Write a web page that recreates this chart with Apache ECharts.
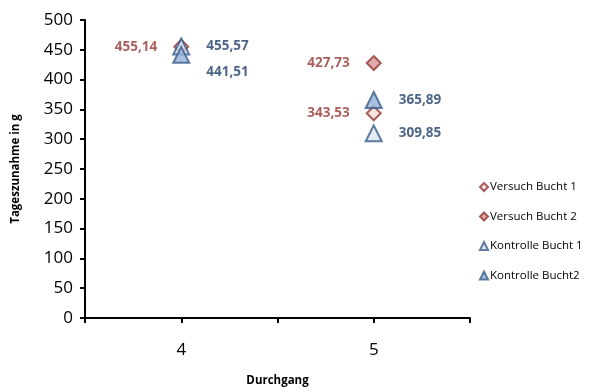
<!DOCTYPE html>
<html>
<head>
<meta charset="utf-8">
<script src="https://cdn.jsdelivr.net/npm/echarts@6/dist/echarts.min.js"></script>
<style>
  html, body { margin: 0; padding: 0; background: #fff; }
  #main { width: 603px; height: 392px; }
</style>
</head>
<body>
<div id="main"></div>
<script>
var durchgang = [4, 5];
var versuch1 = [[4, 455.14], [5, 343.53]];
var versuch2 = [[5, 427.73]];
var kontrolle1 = [[4, 455.57], [5, 309.85]];
var kontrolle2 = [[4, 441.51], [5, 365.89]];
var yTicks = [0, 50, 100, 150, 200, 250, 300, 350, 400, 450, 500];

var myChart = echarts.init(document.getElementById('main'));

function fmt(p) {
  return p.value[1].toFixed(2).replace('.', ',');
}

var redLabel = {
  show: true, position: 'left', distance: 16, formatter: fmt,
  color: '#953735', fontFamily: 'Open Sans', fontWeight: 'bold', fontSize: 13.5
};
var blueLabel = {
  show: true, position: 'right', distance: 16, formatter: fmt,
  color: '#1F3E68', fontFamily: 'Open Sans', fontWeight: 'bold', fontSize: 13.5
};

var option = {
  backgroundColor: '#fff',
  animation: false,
  grid: { left: 85, right: 133, top: 20, bottom: 72 },
  legend: {
    orient: 'vertical',
    left: 474,
    top: 176,
    itemWidth: 8,
    itemHeight: 8,
    itemGap: 17.5,
    textStyle: { fontFamily: 'Open Sans', fontSize: 11.5, color: '#000', padding: [0, 0, 0, -3] },
    data: ['Versuch Bucht 1', 'Versuch Bucht 2', 'Kontrolle Bucht 1', 'Kontrolle Bucht2']
  },
  xAxis: {
    type: 'value',
    min: 3.5, max: 5.5, interval: 0.5,
    name: 'Durchgang',
    nameLocation: 'middle',
    nameGap: 57,
    nameTextStyle: { fontFamily: 'Open Sans', fontWeight: 'bold', fontSize: 11.5, color: '#000' },
    axisLine: { lineStyle: { color: '#000', width: 2 } },
    axisTick: { length: 5, lineStyle: { color: '#000', width: 2 } },
    axisLabel: {
      margin: 24,
      fontFamily: 'Open Sans', fontSize: 17, color: '#000',
      formatter: function (v) { return durchgang.indexOf(v) >= 0 ? String(v) : ''; }
    },
    splitLine: { show: false }
  },
  yAxis: {
    type: 'value',
    min: yTicks[0], max: yTicks[yTicks.length - 1], interval: 50,
    name: 'Tageszunahme in g',
    nameLocation: 'middle',
    nameGap: 63,
    nameTextStyle: { fontFamily: 'Open Sans', fontWeight: 'bold', fontSize: 11.5, color: '#000' },
    axisLine: { show: true, lineStyle: { color: '#000', width: 2 } },
    axisTick: { show: true, length: 5, lineStyle: { color: '#000', width: 2 } },
    axisLabel: { margin: 12, fontFamily: 'Open Sans', fontSize: 17, color: '#000' },
    splitLine: { show: false }
  },
  series: [
    {
      name: 'Versuch Bucht 1', type: 'scatter', symbol: 'diamond', symbolSize: 14,
      itemStyle: { color: '#F2DCDB', borderColor: '#953735', borderWidth: 2 },
      label: redLabel, data: versuch1
    },
    {
      name: 'Versuch Bucht 2', type: 'scatter', symbol: 'diamond', symbolSize: 14,
      itemStyle: { color: '#D99694', borderColor: '#953735', borderWidth: 2 },
      label: redLabel, data: versuch2
    },
    {
      name: 'Kontrolle Bucht 1', type: 'scatter', symbol: 'triangle', symbolSize: 16,
      itemStyle: { color: '#DCE6F2', borderColor: '#385D8A', borderWidth: 2 },
      label: blueLabel, data: kontrolle1
    },
    {
      name: 'Kontrolle Bucht2', type: 'scatter', symbol: 'triangle', symbolSize: 16,
      itemStyle: { color: '#95B3D7', borderColor: '#385D8A', borderWidth: 2 },
      label: blueLabel,
      data: [
        { value: kontrolle2[0], label: { offset: [0, 17] } },
        kontrolle2[1]
      ]
    }
  ]
};

window.onresize = function () { myChart.resize(); };
myChart.setOption(option);
</script>
</body>
</html>
